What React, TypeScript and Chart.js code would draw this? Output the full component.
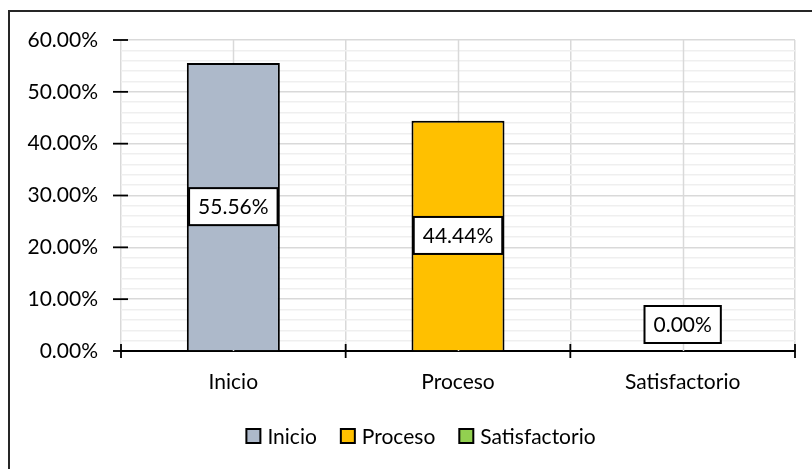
import React, { useEffect, useRef } from "react";
import { Chart, registerables } from "chart.js";

Chart.register(...registerables);

// Categories and their shares (fractions of 1)
const categories = ["Inicio", "Proceso", "Satisfactorio"];
const shares = [0.5556, 0.4444, 0.0];
const barColors = ["#ADB9CA", "#FFC000", "#92D050"];

// Value axis: 0% to 60%, labelled every 10%, faint lines every 2%
const yMin = 0;
const yMax = 0.6;
const minorStep = 0.02;
const minorPerMajor = 5;

const FONT_FAMILY = "Lato, 'Open Sans', 'Noto Sans', sans-serif";
const FONT_SIZE = 21;

const fmtPct = (v: number) => (v * 100).toFixed(2) + "%";

// White page with the chart frame (its right and bottom edges run off the page)
const framePlugin = {
  id: "frame",
  beforeDraw(chart: any) {
    const { ctx } = chart;
    ctx.save();
    ctx.fillStyle = "#ffffff";
    ctx.fillRect(0, 0, chart.width, chart.height);
    ctx.strokeStyle = "#262626";
    ctx.lineWidth = 2;
    ctx.strokeRect(9, 11, 2000, 2000);
    ctx.restore();
  },
};

// Extra vertical gridlines through the middle of every category
const centerLinesPlugin = {
  id: "centerLines",
  beforeDatasetsDraw(chart: any) {
    const { ctx, chartArea, scales } = chart;
    const xs = scales.x;
    ctx.save();
    ctx.strokeStyle = "#D9D9D9";
    ctx.lineWidth = 1.5;
    categories.forEach((_, i) => {
      const x = Math.round(xs.getPixelForValue(i)) + 0.5;
      ctx.beginPath();
      ctx.moveTo(x, chartArea.top);
      ctx.lineTo(x, chartArea.bottom);
      ctx.stroke();
    });
    ctx.restore();
  },
};

// Cross-style tick marks on both axes
const tickMarksPlugin = {
  id: "tickMarks",
  afterDatasetsDraw(chart: any) {
    const { ctx, chartArea, scales } = chart;
    const xs = scales.x;
    const ys = scales.y;
    ctx.save();
    ctx.strokeStyle = "#000000";
    ctx.lineWidth = 1.8;
    // value axis: majors only
    const majors = Math.round((yMax - yMin) / (minorStep * minorPerMajor));
    for (let i = 0; i <= majors; i++) {
      const v = yMin + i * minorStep * minorPerMajor;
      const y = ys.getPixelForValue(v);
      ctx.beginPath();
      ctx.moveTo(chartArea.left - 8, y);
      ctx.lineTo(chartArea.left + 7, y);
      ctx.stroke();
    }
    // category axis: at every category boundary
    for (let i = 0; i <= categories.length; i++) {
      const x = xs.getPixelForValue(i - 0.5);
      ctx.beginPath();
      ctx.moveTo(x, chartArea.bottom - 7);
      ctx.lineTo(x, chartArea.bottom + 7);
      ctx.stroke();
    }
    ctx.restore();
  },
};

// Boxed value labels centred on each bar
const valueLabelsPlugin = {
  id: "valueLabels",
  afterDatasetsDraw(chart: any) {
    const { ctx } = chart;
    const meta = chart.getDatasetMeta(0);
    const values = chart.data.datasets[0].data as number[];
    ctx.save();
    ctx.font = `${FONT_SIZE}px ${FONT_FAMILY}`;
    ctx.textAlign = "center";
    ctx.textBaseline = "middle";
    meta.data.forEach((bar: any, i: number) => {
      const text = fmtPct(values[i]);
      const w = ctx.measureText(text).width + 18;
      const h = 37;
      let cy = (bar.y + bar.base) / 2;
      if (bar.base - bar.y < h + 16) cy = bar.base - 8 - h / 2;
      const cx = bar.x;
      ctx.fillStyle = "#ffffff";
      ctx.fillRect(cx - w / 2, cy - h / 2, w, h);
      ctx.strokeStyle = "#000000";
      ctx.lineWidth = 2;
      ctx.strokeRect(cx - w / 2, cy - h / 2, w, h);
      ctx.fillStyle = "#000000";
      ctx.fillText(text, cx, cy + 1);
    });
    ctx.restore();
  },
};

// Category legend below the axis
const legendPlugin = {
  id: "categoryLegend",
  afterDraw(chart: any) {
    const { ctx } = chart;
    const box = 14;
    const gapText = 7;
    const gapItem = 24;
    const cy = 436;
    const centerX = 421;
    ctx.save();
    ctx.font = `${FONT_SIZE}px ${FONT_FAMILY}`;
    ctx.textBaseline = "middle";
    ctx.textAlign = "left";
    const widths = categories.map((c) => ctx.measureText(c).width);
    const total =
      widths.reduce((s, w) => s + box + gapText + w, 0) + gapItem * (categories.length - 1);
    let x = centerX - total / 2;
    categories.forEach((c, i) => {
      ctx.fillStyle = barColors[i];
      ctx.fillRect(x, cy - box / 2, box, box);
      ctx.strokeStyle = "#000000";
      ctx.lineWidth = 2;
      ctx.strokeRect(x, cy - box / 2, box, box);
      ctx.fillStyle = "#000000";
      ctx.fillText(c, x + box + gapText, cy + 1);
      x += box + gapText + widths[i] + gapItem;
    });
    ctx.restore();
  },
};

export default function App() {
  const canvasRef = useRef<HTMLCanvasElement | null>(null);

  useEffect(() => {
    const canvas = canvasRef.current;
    if (!canvas) return;
    const chart = new Chart(canvas, {
      type: "bar",
      data: {
        labels: categories,
        datasets: [
          {
            label: "Porcentaje",
            data: shares,
            backgroundColor: barColors,
            borderColor: "#000000",
            borderWidth: 2,
            categoryPercentage: 1,
            barPercentage: 0.414,
          },
        ],
      },
      options: {
        animation: false,
        responsive: false,
        maintainAspectRatio: false,
        devicePixelRatio: 1,
        layout: { padding: { top: 40, right: 17, left: 0, bottom: 0 } },
        plugins: {
          legend: { display: false },
          tooltip: { enabled: false },
        },
        scales: {
          x: {
            offset: true,
            grid: {
              offset: true,
              color: "#D9D9D9",
              lineWidth: 1.5,
              drawTicks: false,
            },
            border: { display: true, color: "#000000", width: 2 },
            ticks: {
              color: "#000000",
              padding: 19,
              font: { family: FONT_FAMILY, size: FONT_SIZE },
            },
            afterFit: (s: any) => {
              s.height = 118;
            },
          },
          y: {
            min: yMin,
            max: yMax,
            grid: {
              color: (c: any) => (c.index % minorPerMajor === 0 ? "#D9D9D9" : "#EFEFEF"),
              lineWidth: 1.5,
              drawTicks: false,
            },
            border: { display: false },
            ticks: {
              stepSize: minorStep,
              autoSkip: false,
              color: "#000000",
              padding: 23,
              font: { family: FONT_FAMILY, size: FONT_SIZE },
              callback: (v: any, i: number) => (i % minorPerMajor === 0 ? fmtPct(Number(v)) : ""),
            },
            afterFit: (s: any) => {
              s.width = 121;
            },
          },
        },
      },
      plugins: [framePlugin, centerLinesPlugin, tickMarksPlugin, valueLabelsPlugin, legendPlugin],
    });
    return () => chart.destroy();
  }, []);

  return (
    <div style={{ position: "absolute", left: 0, top: 0, width: 812, height: 469, overflow: "hidden" }}>
      <canvas ref={canvasRef} width={812} height={469} style={{ display: "block" }} />
    </div>
  );
}
